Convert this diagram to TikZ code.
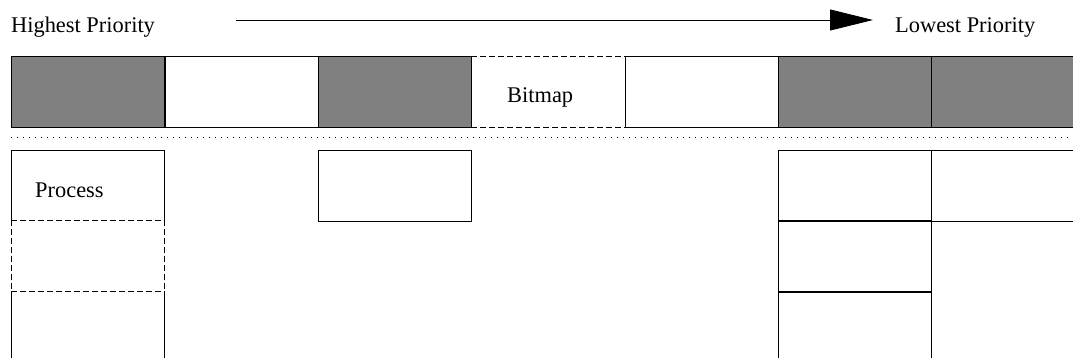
\documentclass[tikz,border=0pt]{standalone}
\usepackage{fontspec}
\setmainfont{Liberation Serif}
\usetikzlibrary{arrows.meta}
\tikzset{
  x=1pt, y=-1pt,
  cell/.style={minimum width=153.5pt, minimum height=71pt, inner sep=0pt, outer sep=0pt, anchor=north west},
  boxed/.style={cell, draw, line width=0.8pt},
  shaded/.style={boxed, fill=black!50},
  lbl/.style={font=\fontsize{22.4}{26}\selectfont, inner sep=0pt, anchor=base west},
  edge/.style={line width=0.8pt},
  dashedge/.style={line width=0.8pt, dash pattern=on 6pt off 3pt},
}
\begin{document}
\begin{tikzpicture}
\useasboundingbox (0,0) rectangle (1073,358);
\clip (0,0) rectangle (1073,358);
% header
\node[lbl] (hi) at (11,33) {Highest Priority};
\node[lbl] (lo) at (895,33) {Lowest Priority};
\coordinate (arrS) at (236,20);
\coordinate (arrE) at (873,20);
\draw[edge, -{Triangle[length=43pt,width=21pt]}] (arrS) -- (arrE);
% bitmap row
\node[shaded] (t1) at (11,56) {};
\node[boxed] (t2) at (165,56) {};
\node[shaded] (t3) at (318,56) {};
\node[cell] (t4) at (471,56) {};
\node[boxed] (t5) at (625,56) {};
\node[shaded] (t6) at (778,56) {};
\node[shaded] (t7) at (931,56) {};
\draw[dashedge] (t4.north west) -- (t4.north east);
\draw[dashedge] (t4.south west) -- (t4.south east);
\node[lbl] (bm) at (507,103) {Bitmap};
% separator
\coordinate (sepL) at (11,137);
\coordinate (sepR) at (1073,137);
\draw[line width=0.8pt, dash pattern=on 1pt off 5pt] (sepL) -- (sepR);
% process lists
\node[cell] (p1) at (11,150) {};
\node[cell] (p2) at (11,220) {};
\node[cell, minimum height=90pt] (p3) at (11,292) {};
\draw[edge] (p1.south west) -- (p1.north west) -- (p1.north east) -- (p1.south east);
\draw[dashedge] (p2.north west) -- (p2.north east);
\draw[dashedge] (p2.south west) -- (p2.south east);
\draw[dashedge] (p2.north west) -- (p2.south west);
\draw[dashedge] (p2.north east) -- (p2.south east);
\draw[edge] (p3.south west) -- (p3.north west);
\draw[edge] (p3.north east) -- (p3.south east);
\node[lbl] (pl) at (35,198) {Process};
\node[boxed] (q1) at (318,150) {};
\node[boxed] (r1) at (778,150) {};
\node[boxed] (r2) at (778,220) {};
\node[boxed, minimum height=90pt] (r3) at (778,292) {};
\node[boxed] (s1) at (931,150) {};
\draw[edge] (s1.south west) -- +(0,90);
\end{tikzpicture}
\end{document}
